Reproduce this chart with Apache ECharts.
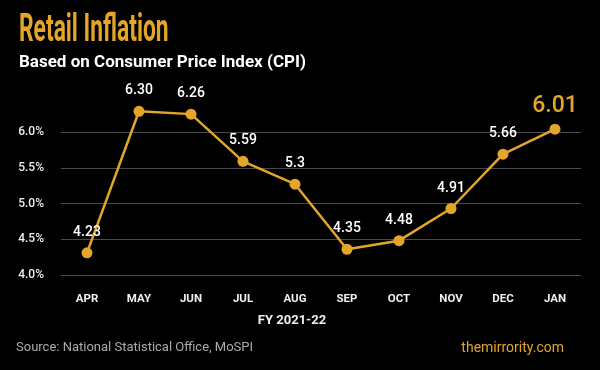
<!DOCTYPE html>
<html><head><meta charset="utf-8">
<script src="https://cdn.jsdelivr.net/npm/echarts@6/dist/echarts.min.js"></script>
<style>html,body{margin:0;padding:0;background:#000}#c{width:600px;height:370px}</style>
</head><body><div id="c"></div>
<script>
const months = ['APR','MAY','JUN','JUL','AUG','SEP','OCT','NOV','DEC','JAN'];
const cpiValues = [4.31, 6.29, 6.25, 5.59, 5.27, 4.36, 4.48, 4.93, 5.69, 6.04];
const cpiLabels = ['4.23','6.30','6.26','5.59','5.3','4.35','4.48','4.91','5.66','6.01'];
const yTicks = [4.0, 4.5, 5.0, 5.5, 6.0];
const orange = '#E3A62B';
const chart = echarts.init(document.getElementById('c'));
const last = cpiValues.length - 1;
chart.setOption({
  backgroundColor: '#000',
  animation: false,
  grid: {left: 61, right: 19, top: 132, bottom: 95},
  xAxis: {
    type: 'category', data: months, boundaryGap: true,
    axisLine: {show: false}, axisTick: {show: false},
    axisLabel: {color: '#eee', fontFamily: 'Roboto', fontWeight: 'bold', fontSize: 11.5, margin: 18}
  },
  yAxis: {
    type: 'value', min: yTicks[0], max: yTicks[yTicks.length-1], interval: 0.5,
    axisLine: {show: false}, axisTick: {show: false},
    splitLine: {lineStyle: {color: '#4a4a4a', width: 1}},
    axisLabel: {color: '#eee', fontFamily: 'Roboto', fontWeight: 500, fontSize: 12, margin: 17,
      formatter: v => v.toFixed(1) + '%'}
  },
  series: [{
    type: 'line', clip: false,
    data: cpiValues.map((v, i) => ({
      value: v,
      label: i === last ? {fontSize: 23, color: orange, fontWeight: 500, distance: 6} : undefined
    })),
    symbol: 'circle', symbolSize: 11,
    lineStyle: {color: orange, width: 2.5},
    itemStyle: {color: orange},
    label: {show: true, position: 'top', distance: 8, color: '#fff', fontFamily: 'Roboto',
      fontSize: 14, fontWeight: 500, formatter: p => cpiLabels[p.dataIndex]}
  }],
  graphic: [
    {type: 'text', x: 19, y: 12, scaleX: 0.6, style: {text: 'Retail Inflation', fill: orange,
      font: 'bold 38px Roboto'}},
    {type: 'text', left: 19, top: 54, style: {text: 'Based on Consumer Price Index (CPI)', fill: '#fff',
      font: 'bold 17px Roboto'}},
    {type: 'text', x: 292, y: 321, style: {text: 'FY 2021-22', fill: '#eee', align: 'center', verticalAlign: 'middle',
      font: 'bold 13px Roboto'}},
    {type: 'text', x: 16, y: 348, style: {text: 'Source: National Statistical Office, MoSPI', fill: '#aaa',
      verticalAlign: 'middle', font: '13px Roboto'}},
    {type: 'text', x: 564, y: 348, style: {text: 'themirrority.com', fill: orange, align: 'right',
      verticalAlign: 'middle', font: '14px Roboto'}}
  ]
});
</script></body></html>
